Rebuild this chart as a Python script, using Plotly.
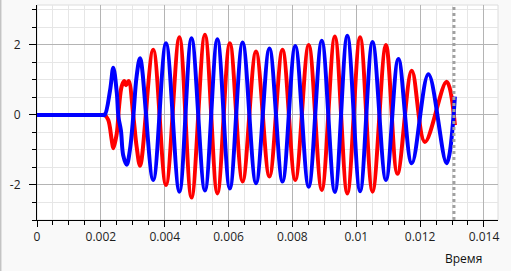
import plotly.graph_objects as go

# ---- data ----
blue_t = [0.0, 0.001, 0.00205, 0.00212, 0.00229, 0.00239, 0.0025, 0.00255, 0.00263, 0.0027, 0.00281,
          0.00291, 0.00302, 0.00312, 0.00323, 0.00364, 0.00404, 0.00446, 0.00484,
          0.00526, 0.00565, 0.00604, 0.00644, 0.00686, 0.00728, 0.00769, 0.00809,
          0.00851, 0.00892, 0.00933, 0.00972, 0.01012, 0.01051, 0.01093, 0.01132,
          0.01174, 0.01226, 0.01283, 0.01309]
blue_v = [0.0, 0.0, 0.0, 0.0, 0.71, 1.35, 0.63, -0.05, -0.45, -1.15, -1.42,
          -1.0, 0.0, 1.1, 1.62, -1.86, 2.05, -2.19, 2.19,
          -2.16, 2.16, -2.1, 2.07, -1.95, 1.9, -1.9, 1.97,
          -2.05, 2.12, -2.2, 2.26, -2.18, 2.08, -1.86, 1.6,
          -1.38, 1.16, -1.38, 0.52]

red_t = [0.0, 0.001, 0.00205, 0.00212, 0.00223, 0.00234, 0.00239, 0.0025, 0.00257, 0.00265, 0.00273,
         0.00279, 0.00287, 0.00302, 0.00312, 0.00323, 0.00364, 0.00404, 0.00446,
         0.00484, 0.00526, 0.00565, 0.00604, 0.00644, 0.00686, 0.00728, 0.00769,
         0.00809, 0.00851, 0.00892, 0.00933, 0.00972, 0.01012, 0.01051, 0.01093,
         0.01129, 0.01174, 0.01215, 0.01283, 0.01309]
red_v = [0.0, 0.0, 0.0, 0.0, -0.14, -0.71, -0.95, -0.52, 0.24, 0.81, 0.97,
         0.85, 0.97, -0.05, -0.9, -1.45, 1.86, -2.0, 2.22,
         -2.36, 2.29, -2.24, 2.05, -1.9, 1.81, -1.76, 1.86,
         -1.86, 2.0, -2.14, 2.24, -2.24, 2.22, -2.19, 2.0,
         -1.68, 1.26, -0.77, 0.95, -0.29]

marker_time = 0.01306

x_tick_vals = [0, 0.002, 0.004, 0.006, 0.008, 0.01, 0.012, 0.014]
x_tick_text = ["0", "0.002", "0.004", "0.006", "0.008", "0.01", "0.012", "0.014"]
y_tick_vals = [-2, 0, 2]
y_tick_text = ["-2", "0", "2"]
y_long_ticks = [-3, -1, 1, 3]

x_range = [0, 0.01444]
y_range = [-3.0, 3.14]

FONT = "Open Sans"
TXT = "#1e1e1e"

fig = go.Figure()
fig.add_trace(go.Scatter(x=red_t, y=red_v, mode="lines",
                         line=dict(color="#ff0000", width=4, shape="spline", smoothing=1.0),
                         showlegend=False, hoverinfo="skip"))
fig.add_trace(go.Scatter(x=blue_t, y=blue_v, mode="lines",
                         line=dict(color="#0000ff", width=4, shape="spline", smoothing=1.0),
                         showlegend=False, hoverinfo="skip"))

fig.update_layout(
    width=511, height=271,
    margin=dict(l=37, r=13, t=5, b=51),
    paper_bgcolor="#f9f9f9",
    plot_bgcolor="#ffffff",
    font=dict(family=FONT, size=12, color=TXT),
    xaxis=dict(
        range=x_range, tickmode="array", tickvals=x_tick_vals, ticktext=x_tick_text,
        ticks="outside", ticklen=6, tickcolor="#000", tickwidth=1,
        showline=True, linecolor="#000", linewidth=1,
        showgrid=True, gridcolor="#b4b4b4", gridwidth=1, zeroline=False,
        minor=dict(tickmode="linear", tick0=0, dtick=0.0005, ticks="outside", ticklen=4,
                   tickcolor="#000", showgrid=True, gridcolor="#e6e6e6", gridwidth=1),
        tickfont=dict(family=FONT, size=12, color=TXT),
    ),
    yaxis=dict(
        range=y_range, tickmode="array", tickvals=y_tick_vals, ticktext=y_tick_text,
        ticks="outside", ticklen=7, tickcolor="#000", tickwidth=1,
        showline=True, linecolor="#000", linewidth=1,
        showgrid=True, gridcolor="#b4b4b4", gridwidth=1, zeroline=False,
        minor=dict(tickmode="linear", tick0=0, dtick=0.5, ticks="outside", ticklen=4,
                   tickcolor="#000", showgrid=True, gridcolor="#e6e6e6", gridwidth=1),
        tickfont=dict(family=FONT, size=12, color=TXT),
        ticklabelstandoff=6,
    ),
    yaxis2=dict(
        range=y_range, overlaying="y", side="left", anchor="x",
        tickmode="array", tickvals=y_long_ticks, ticktext=[""] * len(y_long_ticks),
        ticks="outside", ticklen=7, tickcolor="#000", showgrid=False, zeroline=False,
        showline=False, showticklabels=False,
    ),
)

# plot border
fig.add_shape(type="rect", xref="paper", yref="paper", x0=0, x1=1, y0=0, y1=1,
              line=dict(color="#dcdcdc", width=1), layer="below")
# dotted marker line
fig.add_shape(type="line", xref="x", yref="paper", x0=marker_time, x1=marker_time, y0=0, y1=1,
              line=dict(color="#a0a0a0", width=3, dash="dot"))
# window left edge
fig.add_shape(type="line", xref="paper", yref="paper", x0=-36.3 / 461, x1=-36.3 / 461,
              y0=-51 / 215, y1=1 + 5 / 215, line=dict(color="#c4c4c4", width=1.5))

fig.add_annotation(text="Время", xref="paper", yref="paper", x=0.926, y=-0.177,
                   showarrow=False, font=dict(family=FONT, size=12, color="#111"),
                   xanchor="center", yanchor="middle")

fig.write_html("out.html")
